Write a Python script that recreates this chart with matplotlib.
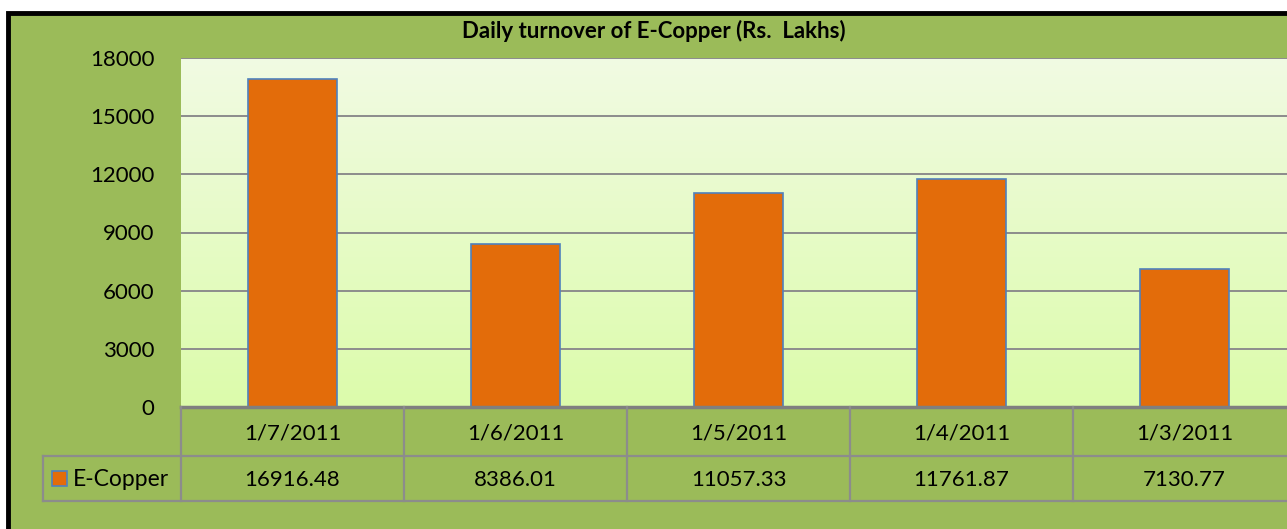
import matplotlib
matplotlib.use("Agg")
import matplotlib.pyplot as plt
import numpy as np
from matplotlib.patches import Rectangle
from matplotlib.lines import Line2D
from matplotlib.colors import LinearSegmentedColormap

categories = ["1/7/2011", "1/6/2011", "1/5/2011", "1/4/2011", "1/3/2011"]
values = [16916.48, 8386.01, 11057.33, 11761.87, 7130.77]
series_name = "E-Copper"
yticks = [0, 3000, 6000, 9000, 12000, 15000, 18000]
title = "Daily turnover of E-Copper (Rs.  Lakhs)"

W, H = 1287, 529
FONT = "Lato"
FS = 16
BG = "#9BBB59"
BAR = "#E36C0A"
BAR_EDGE = "#4F81BD"
GRID = "#8C8C8C"

fig = plt.figure(figsize=(W / 100, H / 100), dpi=100)
fig.patch.set_facecolor("white")

# green chart area with black border (clipped at right and bottom)
fig.patches.append(Rectangle((8 / W, -0.05), 1.1, (H - 13) / H + 0.05, transform=fig.transFigure,
                             facecolor=BG, edgecolor="black", linewidth=3.5, zorder=-5))

# plot area in pixels
L, R, T, B = 181, 1296, 58, 407
ax = fig.add_axes([L / W, (H - B) / H, (R - L) / W, (B - T) / H])
ax.set_zorder(2)
ax.set_facecolor("none")
n = len(categories)
x = np.arange(n)
ax.set_xlim(-0.5, n - 0.5)
ax.set_ylim(0, 18000)

# gradient background
cmap = LinearSegmentedColormap.from_list("g", ["#DCFCAB", "#F1FAE3"])
grad = np.linspace(0, 1, 256).reshape(-1, 1)
ax.imshow(grad, aspect="auto", cmap=cmap, extent=(-0.5, n - 0.5, 0, 18000),
          origin="lower", zorder=0)

for yv in yticks[1:]:
    ax.axhline(yv, color=GRID, linewidth=1.4, zorder=1)

ax.bar(x, values, width=0.4, color=BAR, edgecolor=BAR_EDGE, linewidth=1.2, zorder=2)

for s in ax.spines.values():
    s.set_visible(False)
ax.set_xticks([])
ax.set_yticks(yticks)
ax.set_yticklabels([str(v) for v in yticks], fontsize=FS, family=FONT)
ax.tick_params(axis="y", length=0, pad=19)
ax.axhline(0, color="#7F7F7F", linewidth=2.5, zorder=3, clip_on=False)

fig.text(654 / W, 1 - 31 / H, title, ha="center", va="center", fontsize=16,
         fontweight="bold", family=FONT)

# data table
row1_top, row1_bot, row2_bot = 407, 456, 501
legend_left = 43
cell_w = (R - L) / n


def fx(px):
    return px / W


def fy(py):
    return 1 - py / H


lines = []
lines.append(Line2D([fx(legend_left), fx(R)], [fy(row1_bot), fy(row1_bot)]))
lines.append(Line2D([fx(legend_left), fx(R)], [fy(row2_bot), fy(row2_bot)]))
lines.append(Line2D([fx(legend_left), fx(legend_left)], [fy(row1_bot), fy(row2_bot)]))
for i in range(n + 1):
    xx = fx(L + i * cell_w)
    lines.append(Line2D([xx, xx], [fy(row1_top), fy(row2_bot)]))
for ln in lines:
    ln.set_color(GRID)
    ln.set_linewidth(1.6)
    ln.set_transform(fig.transFigure)
    fig.lines.append(ln)

for i, (c, v) in enumerate(zip(categories, values)):
    cx = fx(L + (i + 0.5) * cell_w)
    fig.text(cx, fy((row1_top + row1_bot) / 2 + 2), c, ha="center", va="center",
             fontsize=FS, family=FONT)
    fig.text(cx, fy((row1_bot + row2_bot) / 2 + 1), f"{v:.2f}", ha="center", va="center",
             fontsize=FS, family=FONT)

# legend key
fig.patches.append(Rectangle((fx(52), fy(486)), 15 / W, 15 / H, transform=fig.transFigure,
                             facecolor=BAR, edgecolor=BAR_EDGE, linewidth=1.2))
fig.text(fx(73), fy((row1_bot + row2_bot) / 2 + 1), series_name, ha="left", va="center",
         fontsize=FS + 0.5, family=FONT)

fig.savefig("out.png", dpi=100)
